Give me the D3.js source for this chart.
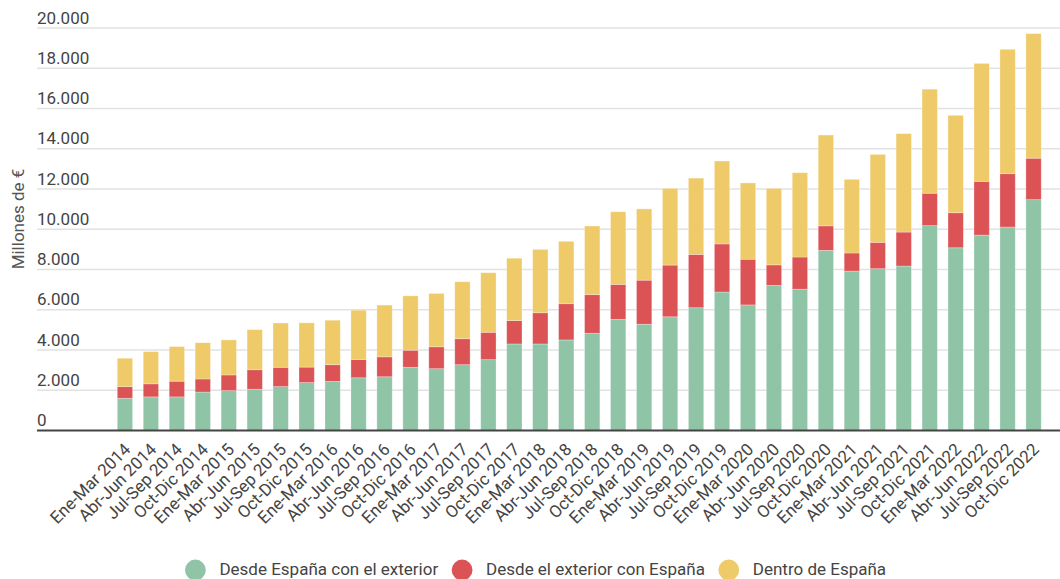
<!DOCTYPE html>
<html>
<head>
<meta charset="utf-8">
<script src="https://cdn.jsdelivr.net/npm/d3@7"></script>
<style>
html,body{margin:0;padding:0;background:#fff;}
svg{display:block;font-family:Roboto,"Noto Sans",sans-serif;}
</style>
</head>
<body>
<svg id="chart" width="1060" height="579"></svg>
<script>
const categories = [
  "Ene-Mar 2014","Abr-Jun 2014","Jul-Sep 2014","Oct-Dic 2014",
  "Ene-Mar 2015","Abr-Jun 2015","Jul-Sep 2015","Oct-Dic 2015",
  "Ene-Mar 2016","Abr-Jun 2016","Jul-Sep 2016","Oct-Dic 2016",
  "Ene-Mar 2017","Abr-Jun 2017","Jul-Sep 2017","Oct-Dic 2017",
  "Ene-Mar 2018","Abr-Jun 2018","Jul-Sep 2018","Oct-Dic 2018",
  "Ene-Mar 2019","Abr-Jun 2019","Jul-Sep 2019","Oct-Dic 2019",
  "Ene-Mar 2020","Abr-Jun 2020","Jul-Sep 2020","Oct-Dic 2020",
  "Ene-Mar 2021","Abr-Jun 2021","Jul-Sep 2021","Oct-Dic 2021",
  "Ene-Mar 2022","Abr-Jun 2022","Jul-Sep 2022","Oct-Dic 2022"
];
const desdeEspanaExterior = [
  1600,1670,1670,1910, 1980,2050,2180,2380, 2440,2620,2670,3140,
  3070,3270,3520,4300, 4300,4500,4830,5520, 5280,5650,6100,6880,
  6240,7210,7020,8950, 7920,8040,8170,10180, 9080,9710,10110,11470
];
const desdeExteriorEspana = [
  580,650,780,650, 780,970,960,770, 830,910,990,850,
  1090,1290,1360,1160, 1550,1800,1920,1740, 2190,2570,2650,2390,
  2270,1020,1600,1220, 900,1310,1690,1610, 1740,2670,2650,2060
];
const dentroEspana = [
  1410,1600,1720,1800, 1740,1990,2200,2200, 2210,2450,2570,2700,
  2650,2830,2960,3100, 3150,3100,3410,3610, 3540,3810,3790,4120,
  3790,3800,4190,4510, 3660,4370,4890,5170, 4840,5860,6180,6190
];
const seriesNames = ["Desde España con el exterior","Desde el exterior con España","Dentro de España"];
const seriesColors = ["#8fc4a7","#dc5356","#efca69"];
const yTicks = [0,2000,4000,6000,8000,10000,12000,14000,16000,18000,20000];
const yLabel = "Millones de €";

const svg = d3.select("#chart");
const W = 1060;
const FONT = 17;

const rows = categories.map((c,i)=>({cat:c, s0:desdeEspanaExterior[i], s1:desdeExteriorEspana[i], s2:dentroEspana[i]}));
const stack = d3.stack().keys(["s0","s1","s2"]);
const layers = stack(rows);

const x = d3.scaleBand().domain(categories).range([104.3, 1054.2]).paddingInner(0.41).paddingOuter(0.5);
const y = d3.scaleLinear().domain([0,20000]).range([430.5, 28]);

const fmt = v => d3.format(",")(v).replace(/,/g,".");

// gridlines
const grid = svg.append("g");
grid.selectAll("line").data(yTicks.filter(t=>t>0)).join("line")
  .attr("x1",37).attr("x2",W)
  .attr("y1",d=>y(d)).attr("y2",d=>y(d))
  .attr("stroke","#e2e2e2").attr("stroke-width",1.3);

// y tick labels
svg.append("g").selectAll("text").data(yTicks).join("text")
  .attr("x",37).attr("y",d=>y(d)-4.5)
  .attr("font-size",FONT).attr("fill","#444")
  .text(d=>fmt(d));

// y axis title
svg.append("text")
  .attr("transform","translate(23.5,219) rotate(-90)")
  .attr("text-anchor","middle")
  .attr("font-size",FONT).attr("fill","#555")
  .text(yLabel);

// bars
svg.append("g").selectAll("g").data(layers).join("g")
  .attr("fill",(d,i)=>seriesColors[i])
  .selectAll("rect").data(d=>d).join("rect")
  .attr("x",d=>x(d.data.cat))
  .attr("width",x.bandwidth())
  .attr("y",d=>y(d[1]))
  .attr("height",d=>y(d[0])-y(d[1]))
  .attr("stroke","rgba(255,255,255,0.35)").attr("stroke-width",0.8);

// baseline
svg.append("line").attr("x1",37).attr("x2",W).attr("y1",y(0)).attr("y2",y(0))
  .attr("stroke","#444").attr("stroke-width",2);

// x labels
svg.append("g").selectAll("text").data(categories).join("text")
  .attr("transform",d=>`translate(${x(d)+x.bandwidth()/2+6.5},450.5) rotate(-45)`)
  .attr("text-anchor","end")
  .attr("font-size",FONT).attr("fill","#444")
  .text(d=>d);

// legend
const leg = svg.append("g");
const items = leg.selectAll("g").data(seriesNames).join("g");
items.append("circle").attr("r",10.4).attr("cy",570).attr("fill",(d,i)=>seriesColors[i]);
items.append("text").attr("y",575).attr("font-size",FONT).attr("fill","#444").text(d=>d);
let widths = [];
items.select("text").each(function(){ widths.push(this.getComputedTextLength()); });
const R = 10.4, gapCT = 13.6, gapItem = 13.5;
let cur = 185;
items.each(function(d,i){
  const g = d3.select(this);
  g.select("circle").attr("cx", cur + R);
  g.select("text").attr("x", cur + 2*R + gapCT);
  cur += 2*R + gapCT + widths[i] + gapItem;
});
</script>
</body>
</html>
